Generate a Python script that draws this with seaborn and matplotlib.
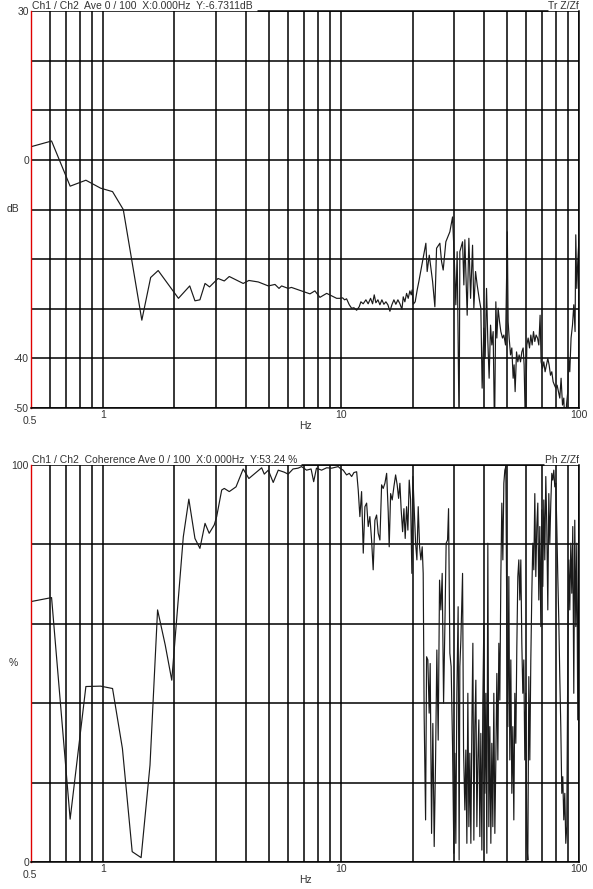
import numpy as np
import pandas as pd
import seaborn as sns
import matplotlib.pyplot as plt
from matplotlib.lines import Line2D

# TRANSFER FUNCTION MAGNITUDE (dB)
mag_hz = [0.5, 0.61, 0.73, 0.85, 0.98, 1.10, 1.22, 1.46, 1.59, 1.71, 2.08, 2.32, 2.44, 2.56, 2.69, 2.81,
          3.05, 3.24, 3.40, 3.89, 4.11, 4.50, 4.96, 5.29, 5.50, 5.64, 6.01, 6.20, 6.84, 7.42, 7.78, 8.17,
          8.72, 9.60, 9.91, 10.17, 10.37, 10.57, 10.85, 11.10, 11.35, 11.65, 11.94, 12.14, 12.41, 12.74,
          13.02, 13.33, 13.59, 13.81, 14.03, 14.31, 14.59, 14.87, 15.16, 15.46, 15.76, 16.07, 16.38,
          16.70, 17.02, 17.36, 17.70, 18.05, 18.28, 18.57, 18.88, 19.18, 19.49, 19.74, 19.93, 20.13,
          20.52, 20.92, 21.26, 21.82, 22.75, 23.04, 23.51, 24.28, 24.82, 25.23, 26.05, 26.48, 26.90,
          27.60, 28.69, 29.45, 29.91, 30.40, 30.79, 31.38, 31.60, 32.44, 32.85, 33.17, 33.92, 34.48,
          35.05, 35.73, 36.18, 36.78, 37.36, 38.08, 38.71, 39.20, 39.85, 40.36, 40.90, 41.42, 41.94,
          42.52, 43.05, 43.60, 44.19, 44.75, 45.19, 45.76, 46.37, 46.97, 47.74, 48.35, 49.15, 50.0,
          50.40, 50.90, 51.58, 52.23, 52.90, 53.40, 53.93, 54.66, 55.35, 56.05, 56.81, 57.53, 58.27,
          58.82, 59.62, 60.38, 61.15, 61.97, 62.76, 63.55, 64.40, 65.23, 66.05, 66.95, 67.80, 68.66,
          69.32, 70.27, 71.16, 72.05, 73.03, 73.96, 74.89, 75.91, 76.87, 77.86, 78.90, 79.90, 80.92,
          82.01, 83.05, 84.10, 85.25, 86.32, 87.41, 88.60, 89.73, 90.60, 91.47, 92.62, 93.90, 95.08,
          96.27, 96.93, 97.87, 98.82, 100.0]
mag_db = [2.65, 3.8, -5.3, -4.1, -5.7, -6.4, -10.0, -32.3, -23.7, -22.3, -27.9, -25.4, -28.4, -28.2,
          -24.9, -25.6, -23.9, -24.4, -23.5, -24.9, -24.3, -24.6, -25.4, -25.1, -25.9, -25.4, -25.9,
          -25.7, -26.4, -27.0, -26.4, -27.7, -26.9, -27.9, -27.9, -27.8, -28.2, -28.0, -29.2, -29.9,
          -29.8, -30.3, -29.6, -28.6, -29.0, -28.2, -29.0, -27.9, -29.0, -27.2, -28.8, -28.2, -29.2,
          -28.2, -29.1, -28.6, -29.2, -30.5, -29.2, -28.2, -29.1, -28.2, -29.0, -30.1, -27.6, -28.6,
          -26.9, -27.9, -26.4, -27.2, -26.2, -29.1, -28.6, -26.2, -24.5, -21.5, -16.8, -22.5, -19.2,
          -24.5, -29.6, -17.8, -16.8, -20.5, -22.2, -16.5, -14.5, -11.5, -19.2, -29.2, -18.5, -55.0,
          -18.5, -16.5, -25.2, -16.1, -31.3, -15.8, -27.9, -17.2, -29.9, -22.5, -25.2, -27.9, -29.9,
          -46.0, -33.9, -40.0, -25.9, -36.6, -44.0, -33.3, -37.3, -34.6, -55.0, -28.6, -35.9, -29.9,
          -32.6, -34.6, -35.9, -35.3, -37.3, -14.5, -32.6, -35.9, -39.3, -37.9, -44.0, -41.3, -46.7,
          -38.7, -40.7, -39.3, -40.7, -38.7, -37.9, -41.3, -55.0, -37.3, -35.9, -37.9, -35.3, -37.3,
          -34.6, -36.6, -35.3, -35.9, -37.3, -31.3, -40.7, -42.0, -40.7, -42.7, -41.3, -40.0, -41.3,
          -43.4, -42.7, -44.7, -45.4, -46.0, -45.4, -46.7, -48.0, -44.0, -49.4, -48.0, -55.0, -49.4,
          -46.7, -40.0, -42.7, -35.9, -33.3, -29.2, -34.6, -15.1, -25.9, -20.5, -15.8]

# COHERENCE (%)
coh_hz = [0.5, 0.61, 0.73, 0.85, 0.98, 1.10, 1.21, 1.33, 1.45, 1.58, 1.70, 1.83, 1.95, 2.18, 2.30, 2.44,
          2.56, 2.69, 2.80, 2.94, 3.01, 3.16, 3.24, 3.40, 3.63, 3.89, 4.11, 4.65, 4.77, 4.96, 5.20, 5.46,
          5.78, 6.01, 6.30, 6.61, 6.84, 7.18, 7.50, 7.69, 7.90, 8.30, 8.72, 9.15, 9.75, 9.91, 10.23,
          10.57, 10.85, 11.10, 11.35, 11.65, 11.83, 12.02, 12.22, 12.42, 12.62, 12.83, 13.03, 13.24,
          13.46, 13.67, 13.90, 14.13, 14.35, 14.59, 14.83, 15.06, 15.31, 15.57, 15.81, 15.96, 16.18,
          16.43, 16.70, 16.98, 17.24, 17.48, 17.70, 17.92, 18.17, 18.40, 18.63, 18.88, 19.12, 19.37,
          19.63, 19.87, 20.07, 20.33, 20.60, 20.86, 21.13, 21.41, 21.68, 21.96, 22.17, 22.38, 22.69,
          22.91, 23.19, 23.49, 23.72, 24.04, 24.34, 24.66, 24.99, 25.30, 25.63, 25.97, 26.30, 26.64,
          27.00, 27.34, 27.68, 28.06, 28.33, 28.69, 29.05, 29.45, 29.82, 30.11, 30.40, 30.70, 31.08,
          31.38, 31.60, 31.91, 32.44, 32.75, 33.17, 33.49, 33.82, 34.14, 34.48, 34.81, 35.15, 35.49,
          35.84, 36.18, 36.53, 36.89, 37.25, 37.61, 37.97, 38.34, 38.71, 39.09, 39.47, 39.85, 40.24,
          40.63, 41.02, 41.42, 41.82, 42.23, 42.64, 43.05, 43.47, 43.89, 44.32, 44.75, 45.19, 45.63,
          46.07, 46.51, 46.97, 47.42, 47.89, 48.35, 48.82, 49.29, 49.77, 50.26, 50.75, 51.23, 51.73,
          52.23, 52.74, 53.25, 53.77, 54.29, 54.82, 55.35, 55.89, 56.43, 56.98, 57.53, 58.09, 58.65,
          59.22, 59.80, 60.38, 60.97, 61.56, 62.15, 62.76, 63.37, 63.98, 64.60, 65.23, 65.86, 66.50,
          67.15, 67.80, 68.46, 69.12, 69.80, 70.47, 71.16, 71.84, 72.54, 73.25, 73.96, 74.68, 75.40,
          76.13, 76.87, 77.62, 78.37, 79.13, 79.90, 80.68, 81.46, 82.25, 83.05, 83.86, 84.67, 85.49,
          86.32, 87.16, 88.01, 88.86, 89.73, 90.60, 91.47, 92.36, 93.26, 94.16, 95.08, 95.99, 96.93,
          97.87, 98.82, 100.0]
coh_pct = [65.6, 66.6, 10.8, 44.2, 44.3, 43.7, 28.6, 2.6, 1.1, 24.4, 63.5, 54.7, 45.8, 81.9, 91.4, 81.5,
           79.0, 85.3, 82.8, 84.9, 87.0, 93.7, 94.1, 93.3, 94.5, 99.0, 96.6, 99.3, 97.7, 98.7, 95.6, 98.7,
           98.2, 97.7, 99.0, 99.2, 99.6, 98.7, 99.0, 95.8, 99.2, 98.7, 99.3, 99.2, 99.6, 99.2, 98.7,
           97.5, 97.9, 97.1, 98.1, 98.3, 93.7, 87.0, 93.3, 77.8, 89.5, 90.4, 84.5, 87.0,
           81.1, 73.6, 86.1, 87.4, 82.8, 81.1, 95.0, 94.1, 95.4, 97.9, 88.2, 79.4, 92.8,
           91.2, 94.5, 97.5, 95.0, 91.6, 95.4, 88.7, 83.2, 89.0, 81.5, 89.5, 83.6, 96.2,
           91.2, 72.7, 97.1, 88.7, 80.3, 76.1, 89.5, 79.4, 76.1, 79.4, 72.7, 36.6, 10.6,
           51.7, 50.9, 37.5, 50.0, 7.2, 34.9, 3.9, 25.7, 53.4, 30.7, 71.0, 63.5, 72.7,
           40.0, 59.3, 80.3, 81.1, 89.0, 52.6, 49.2, 29.0, 2.2, 27.4, 4.7, 42.5, 64.3,
           0.5, 49.2, 55.9, 72.7, 28.2, 13.1, 28.2, 4.7, 42.5, 8.9, 27.4, 4.7, 34.1,
           55.1, 5.5, 34.1, 45.8, 8.9, 25.7, 35.8, 6.4, 32.4, 3.0, 40.8, 60.0, 17.3,
           42.5, 2.2, 80.3, 8.9, 34.1, 4.7, 29.9, 8.9, 42.5, 7.2, 25.7, 47.5, 25.7,
           55.1, 40.8, 71.9, 90.4, 76.1, 95.4, 98.7, 99.6, 59.3, 34.1, 71.9, 25.7, 50.9,
           17.3, 34.1, 10.6, 42.5, 29.9, 54.2, 71.9, 76.1, 66.0, 76.1, 55.1, 42.5, 50.9,
           25.7, 42.5, 4.7, 0.5, 46.7, 25.7, 50.9, 67.7, 80.3, 73.6, 92.8, 71.9, 84.5,
           90.4, 66.0, 84.5, 59.3, 88.7, 69.4, 91.2, 76.1, 97.1, 84.5, 63.5, 92.8, 80.3,
           90.4, 97.9, 96.2, 98.7, 94.5, 95.4, 84.5, 71.9, 61.0, 46.7, 34.1, 17.3, 21.5,
           10.6, 17.3, 4.7, 8.9, 50.9, 76.1, 63.5, 80.3, 67.7, 84.5, 42.5, 86.1, 59.3,
           80.3, 35.8, 92.8]

mag = pd.DataFrame({'Hz': mag_hz, 'dB': mag_db})
coh = pd.DataFrame({'Hz': coh_hz, 'pct': coh_pct})

sns.set_style("white")
plt.rcParams['font.family'] = ['Liberation Sans', 'DejaVu Sans']
TXT = '#333333'
FS = 7.5

fig = plt.figure(figsize=(5.93, 8.89), dpi=100)
ax1 = fig.add_axes([31/593, 481/889, 548/593, 397/889])
ax2 = fig.add_axes([31/593, 27/889, 548/593, 397/889])

minor_x = [0.6, 0.7, 0.8, 0.9] + list(range(2, 10)) + list(range(20, 100, 10))


def style_axis(ax, yticks, ylabels, unit, unit_y, title, tag, top_from, top_to):
    ax.set_xscale('log')
    ax.set_xlim(0.5, 100)
    ax.set_ylim(yticks[0], yticks[-1])
    ax.set_xticks([1, 10, 100], ['1', '10', '100'])
    ax.set_xticks(minor_x, minor=True)
    ax.xaxis.set_minor_formatter(plt.NullFormatter())
    ax.set_yticks(yticks, ylabels)
    ax.grid(which='both', color='black', linewidth=1.1)
    ax.tick_params(which='both', length=0, labelsize=FS, labelcolor=TXT, pad=1.5)
    ax.set_xlabel('')
    ax.set_ylabel('')
    ax.spines['left'].set_color('#e00000')
    ax.spines['left'].set_linewidth(1.0)
    for s in ['bottom', 'right']:
        ax.spines[s].set_color('black')
        ax.spines[s].set_linewidth(1.1)
    ax.spines['top'].set_visible(False)
    ax.add_line(Line2D([top_from, top_to], [1, 1], transform=ax.transAxes, color='black',
                       linewidth=1.1, clip_on=False))
    # header texts sit just above the frame, baseline ~1.5px over the top line
    ax.annotate(title, xy=(0, 1), xycoords='axes fraction', xytext=(0.5, 1.3),
                textcoords='offset points', ha='left', va='baseline', fontsize=FS, color=TXT)
    ax.annotate(tag, xy=(1, 1), xycoords='axes fraction', xytext=(0, 1.3),
                textcoords='offset points', ha='right', va='baseline', fontsize=FS, color=TXT)
    ax.text(-0.033, unit_y, unit, transform=ax.get_yaxis_transform(), ha='center', va='center',
            fontsize=FS, color=TXT)
    ax.annotate('0.5', xy=(0, 0), xycoords='axes fraction', xytext=(-1, -9.5),
                textcoords='offset points', ha='center', va='center', fontsize=FS, color=TXT)
    ax.annotate('Hz', xy=(0.5, 0), xycoords='axes fraction', xytext=(0, -13),
                textcoords='offset points', ha='center', va='center', fontsize=FS, color=TXT)


sns.lineplot(data=mag, x='Hz', y='dB', ax=ax1, color='#1a1a1a', linewidth=0.85, estimator=None, sort=False)
style_axis(ax1, [-50, -40, -30, -20, -10, 0, 10, 20, 30],
           ['-50', '-40', '', '', '', '0', '', '', '30'], 'dB', -10,
           'Ch1 / Ch2  Ave 0 / 100  X:0.000Hz  Y:-6.7311dB', 'Tr Z/Zf', 0.414, 0.943)

sns.lineplot(data=coh, x='Hz', y='pct', ax=ax2, color='#1a1a1a', linewidth=0.85, estimator=None, sort=False)
style_axis(ax2, [0, 20, 40, 60, 80, 100],
           ['0', '', '', '', '', '100'], '%', 50,
           'Ch1 / Ch2  Coherence Ave 0 / 100  X:0.000Hz  Y:53.24 %', 'Ph Z/Zf', 0.4945, 0.936)

plt.savefig('out.png', dpi=100, facecolor='white')
